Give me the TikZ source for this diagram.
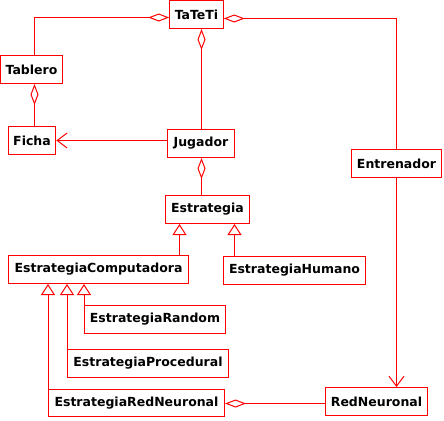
\documentclass[tikz,border=0pt]{standalone}
\usepackage{fontspec}
\setmainfont{DejaVu Sans}
\usepackage{xcolor}
\usepackage{tikz}
\usetikzlibrary{arrows.meta,positioning,calc}

\begin{document}
\color{red}%
\begin{tikzpicture}[
    x=1bp, y=-1bp, color=red,
    classbox/.style={rectangle, draw=red, text=black, fill=white, line width=1bp, minimum height=28bp, inner xsep=5bp, font=\fontsize{12.5bp}{14bp}\selectfont\bfseries},
    aggregation/.style={draw=red, line width=1bp, {Diamond[open, length=21bp, width=8bp]}-},
    association/.style={draw=red, line width=1bp, -{Straight Barb[length=10bp, width=15bp]}},
    inheritance/.style={draw=red, line width=1bp, -{Triangle[open, length=11bp, width=14bp]}}
]
\useasboundingbox (0,0) rectangle (444,420);

% Top level
\node[classbox, minimum width=52bp] (tateti) at (196.5,14.5) {TaTeTi};
\node[classbox, minimum width=62bp] (tablero) at (31.5,69.5) {Tablero};
\node[classbox, minimum width=47bp] (ficha) at (32,140.5) {Ficha};
\node[classbox, minimum width=67bp] (jugador) at (201,143.5) {Jugador};
\node[classbox, minimum width=90bp] (entrenador) at (396.5,163.5) {Entrenador};

% Strategy hierarchy
\node[classbox, minimum width=84bp] (estrategia) at (207.5,209.5) {Estrategia};
\node[classbox, minimum width=180bp] (estcomp) at (98.5,269.5) {EstrategiaComputadora};
\node[classbox, minimum width=142bp] (esthumano) at (294.5,270.5) {EstrategiaHumano};
\node[classbox, minimum width=141bp] (estrandom) at (155,319.5) {EstrategiaRandom};
\node[classbox, minimum width=161bp] (estproc) at (148,363.5) {EstrategiaProcedural};
\node[classbox, minimum width=176bp, minimum height=27bp] (estred) at (136.5,403) {EstrategiaRedNeuronal};
\node[classbox, minimum width=102bp] (redneuronal) at (376.5,401.5) {RedNeuronal};

% Aggregations from TaTeTi
\draw[aggregation] ([yshift=-3bp]tateti.west) -| ([xshift=3bp]tablero.north);
\draw[aggregation] ([xshift=0.5bp]tateti.south -| jugador.north) -- ([xshift=0.5bp]jugador.north);
\draw[aggregation] ([yshift=-4bp]tateti.east) -| (entrenador.north);

% Tablero, Jugador
\draw[aggregation] ([xshift=3bp]tablero.south) -- ([xshift=3bp]tablero.south |- ficha.north);
\draw[association] (jugador.west |- ficha.east) -- (ficha.east);
\draw[aggregation] ([xshift=0.5bp]jugador.south) -- ([xshift=0.5bp]jugador.south |- estrategia.north);

% Inheritance
\draw[inheritance] ([xshift=-28bp]estrategia.south |- estcomp.north) -- ([xshift=-28bp]estrategia.south);
\draw[inheritance] ([xshift=27bp]estrategia.south |- esthumano.north) -- ([xshift=27bp]estrategia.south);
\draw[inheritance] (estrandom.north west) -- (estrandom.north west |- estcomp.south);
\draw[inheritance] (estproc.north west) -- (estproc.north west |- estcomp.south);
\draw[inheritance] (estred.north west) -- (estred.north west |- estcomp.south);

% Red neuronal
\draw[association] (entrenador.south) -- (entrenador.south |- redneuronal.north);
\draw[aggregation] ([yshift=-0.5bp]estred.east) -- ([yshift=-0.5bp]estred.east -| redneuronal.west);

\end{tikzpicture}
\end{document}
